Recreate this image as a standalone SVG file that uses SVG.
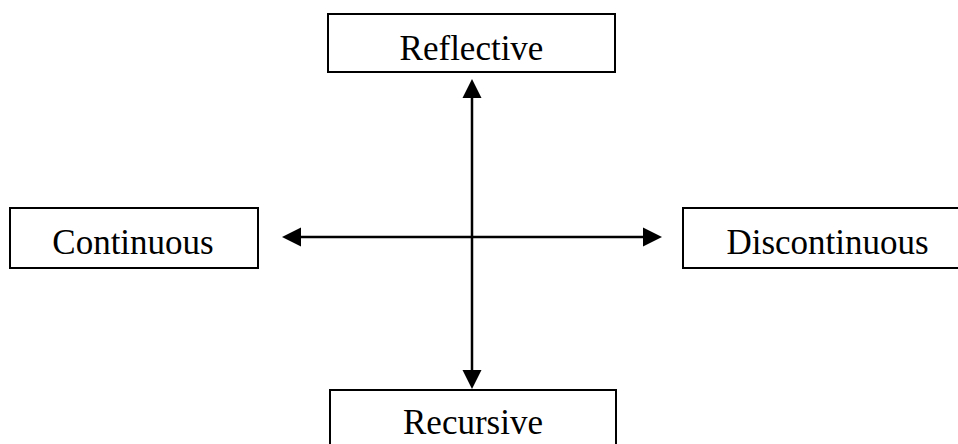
<svg xmlns="http://www.w3.org/2000/svg" width="958" height="444" viewBox="0 0 958 444">
<style>
.box{fill:#fff;stroke:#000;stroke-width:2}
.lbl{font-family:"Liberation Serif","Times New Roman",serif;font-size:35px;fill:#000;text-anchor:middle}
.ln{stroke:#000;stroke-width:2.5;fill:none}
</style>
<rect width="958" height="444" fill="#fff"/>
<g id="connectors">
<line class="ln" x1="472" y1="95" x2="472" y2="372"/>
<line class="ln" x1="298" y1="237" x2="646" y2="237"/>
<polygon points="472,79 462.5,98 481.5,98" fill="#000"/>
<polygon points="472,389 462.5,370 481.5,370" fill="#000"/>
<polygon points="282,237 301,227.5 301,246.5" fill="#000"/>
<polygon points="662,237 643,227.5 643,246.5" fill="#000"/>
</g>
<g id="reflective">
<rect class="box" x="328" y="14" width="287" height="58"/>
<text class="lbl" x="471.5" y="60">Reflective</text>
</g>
<g id="continuous">
<rect class="box" x="10" y="208" width="248" height="60"/>
<text class="lbl" x="133" y="254">Continuous</text>
</g>
<g id="discontinuous">
<rect class="box" x="683" y="208" width="290" height="60"/>
<text class="lbl" x="827.5" y="254">Discontinuous</text>
</g>
<g id="recursive">
<rect class="box" x="330" y="390" width="286" height="70"/>
<text class="lbl" x="473" y="434">Recursive</text>
</g>
</svg>
